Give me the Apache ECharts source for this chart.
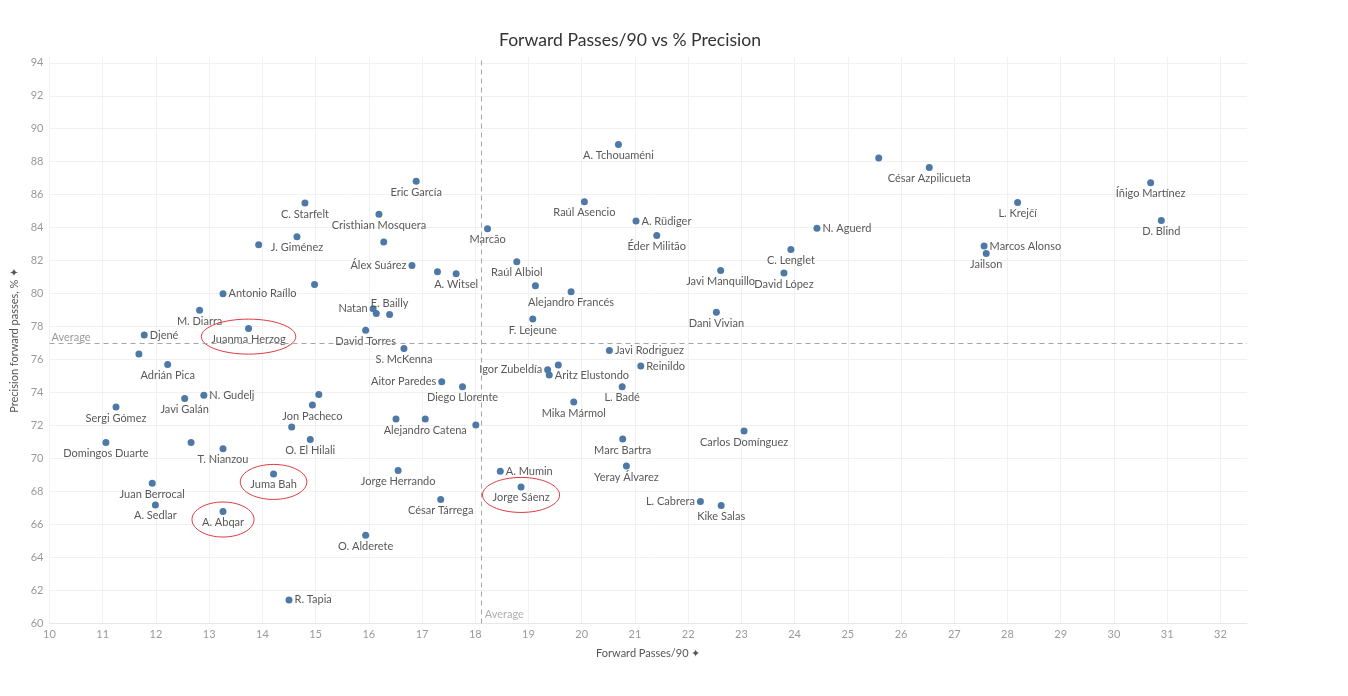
<!DOCTYPE html>
<html>
<head>
<meta charset="utf-8">
<script src="https://cdn.jsdelivr.net/npm/echarts@6/dist/echarts.min.js"></script>
<style>
  html, body { margin: 0; padding: 0; background: #ffffff; }
  #chart { width: 1348px; height: 696px; }
</style>
</head>
<body>
<div id="chart"></div>
<script>
// ---- data ----
const names = [
  'Antonio Raíllo', '', 'Natan', '', 'E. Bailly', 'M. Diarra', 'Juanma Herzog', 'Djené', '', 'Adrián Pica',
  'N. Gudelj', 'Javi Galán', 'Sergi Gómez', '', 'Jon Pacheco', '', 'O. El Hilali', 'Domingos Duarte', '', 'T. Nianzou',
  'David Torres', 'S. McKenna', 'Aitor Paredes', '', 'Alejandro Catena', 'Jorge Herrando', 'Juma Bah', 'Juan Berrocal', 'A. Sedlar', 'A. Abqar',
  'O. Alderete', 'R. Tapia', 'César Tárrega', 'Eric García', 'C. Starfelt', 'Cristhian Mosquera', 'J. Giménez', '', '', 'Marcão',
  'Álex Suárez', '', 'A. Witsel', 'Raúl Albiol', '', 'Alejandro Francés', 'F. Lejeune', 'A. Tchouaméni', 'Raúl Asencio', 'A. Rüdiger',
  'Éder Militão', 'N. Aguerd', 'C. Lenglet', 'Javi Manquillo', 'David López', 'Dani Vivian', 'Javi Rodriguez', 'Igor Zubeldía', 'Aritz Elustondo', '',
  'Reinildo', 'L. Badé', 'Mika Mármol', 'Diego Llorente', '', 'Marc Bartra', 'Yeray Álvarez', 'A. Mumin', 'Jorge Sáenz', 'Carlos Domínguez',
  'L. Cabrera', 'Kike Salas', '', 'César Azpilicueta', 'Íñigo Martínez', 'L. Krejčí', 'D. Blind', 'Marcos Alonso', 'Jailson'
];
const forwardPasses90 = [
  13.26, 14.98, 16.08, 16.14, 16.39, 12.82, 13.74, 11.78, 11.68, 12.22,
  12.90, 12.54, 11.25, 15.06, 14.94, 14.55, 14.90, 11.06, 12.66, 13.26,
  15.94, 16.66, 17.37, 16.51, 17.06, 16.55, 14.21, 11.93, 11.99, 13.26,
  15.94, 14.50, 17.35, 16.89, 14.80, 16.19, 14.65, 13.93, 16.28, 18.23,
  16.81, 17.29, 17.64, 18.78, 19.13, 19.80, 19.08, 20.69, 20.05, 21.02,
  21.41, 24.42, 23.93, 22.61, 23.80, 22.53, 20.52, 19.36, 19.39, 19.56,
  21.11, 20.76, 19.85, 17.76, 18.01, 20.77, 20.84, 18.47, 18.86, 23.05,
  22.23, 22.62, 25.58, 26.53, 30.69, 28.19, 30.89, 27.56, 27.60
];
const precisionPct = [
  80.00, 80.56, 79.09, 78.80, 78.73, 79.00, 77.88, 77.49, 76.34, 75.70,
  73.84, 73.64, 73.13, 73.88, 73.25, 71.92, 71.15, 70.97, 70.97, 70.60,
  77.78, 76.68, 74.66, 72.40, 72.40, 69.27, 69.07, 68.50, 67.19, 66.79,
  65.35, 61.43, 67.52, 86.81, 85.49, 84.81, 83.45, 82.97, 83.13, 83.94,
  81.70, 81.33, 81.21, 81.94, 80.48, 80.12, 78.46, 89.05, 85.58, 84.40,
  83.52, 83.96, 82.68, 81.41, 81.25, 78.88, 76.56, 75.39, 75.07, 75.67,
  75.61, 74.36, 73.43, 74.36, 72.04, 71.19, 69.55, 69.23, 68.28, 71.67,
  67.39, 67.15, 88.22, 87.65, 86.73, 85.53, 84.44, 82.89, 82.44
];
const avgForwardPasses90 = 18.12;
const avgPrecisionPct = 76.97;
const xTicks = { min: 10, max: 32.5, step: 1 };
const yTicks = { min: 60, max: 94.35, step: 2 };
const highlighted = ['Juanma Herzog', 'Juma Bah', 'A. Abqar', 'Jorge Sáenz'];

// label placement (layout, not data)
const labelRight = ['Antonio Raíllo', 'Djené', 'N. Gudelj', 'R. Tapia', 'A. Rüdiger', 'N. Aguerd',
  'Javi Rodriguez', 'Aritz Elustondo', 'Reinildo', 'A. Mumin', 'Marcos Alonso'];
const labelLeft = ['Natan', 'Aitor Paredes', 'Álex Suárez', 'Igor Zubeldía', 'L. Cabrera'];
const labelTop = ['E. Bailly'];

const FONT = 'Lato, "Open Sans", sans-serif';
const LABEL_COLOR = '#595959';

function sideOf(n) {
  if (labelRight.includes(n)) return 'right';
  if (labelLeft.includes(n)) return 'left';
  if (labelTop.includes(n)) return 'top';
  return 'bottom';
}

const points = names.map((n, i) => ({
  value: [forwardPasses90[i], precisionPct[i]],
  name: n,
  label: n ? { show: true, position: sideOf(n) } : { show: false }
}));

const measureCtx = document.createElement('canvas').getContext('2d');
measureCtx.font = '11px ' + FONT;

const ellipseData = highlighted.map(n => {
  const i = names.indexOf(n);
  return { value: [forwardPasses90[i], precisionPct[i]], name: n };
});

const chart = echarts.init(document.getElementById('chart'), null, { renderer: 'canvas' });

chart.setOption({
  backgroundColor: '#ffffff',
  animation: false,
  textStyle: { fontFamily: FONT },
  title: {
    text: 'Forward Passes/90 vs % Precision',
    left: 625,
    textAlign: 'center',
    top: 26,
    textStyle: { fontFamily: FONT, fontSize: 17.6, fontWeight: 'normal', color: '#333333' }
  },
  grid: { left: 49.5, right: 101, top: 57, bottom: 72.5, containLabel: false },
  xAxis: {
    type: 'value',
    min: xTicks.min, max: xTicks.max, interval: xTicks.step,
    name: 'Forward Passes/90 ✦',
    nameLocation: 'middle',
    nameGap: 24,
    nameTextStyle: { fontFamily: FONT, fontSize: 11, color: '#555555' },
    axisLine: { show: true, lineStyle: { color: '#e8e8e8' } },
    axisTick: { show: false },
    axisLabel: { color: '#9a9a9a', fontSize: 11, fontFamily: FONT, margin: 5, showMaxLabel: false },
    splitLine: { show: true, showMaxLine: false, lineStyle: { color: '#f1f1f1', width: 1 } }
  },
  yAxis: {
    type: 'value',
    min: yTicks.min, max: yTicks.max, interval: yTicks.step,
    name: 'Precision forward passes, % ✦',
    nameLocation: 'middle',
    nameGap: 28,
    nameTextStyle: { fontFamily: FONT, fontSize: 11, color: '#555555' },
    axisLine: { show: true, lineStyle: { color: '#f1f1f1' } },
    axisTick: { show: false },
    axisLabel: { color: '#9a9a9a', fontSize: 11, fontFamily: FONT, margin: 6, showMaxLabel: false },
    splitLine: { show: true, showMaxLine: false, lineStyle: { color: '#f1f1f1', width: 1 } }
  },
  series: [
    {
      type: 'scatter',
      name: 'players',
      symbol: 'circle',
      symbolSize: 7,
      itemStyle: { color: '#4e79a7', opacity: 1 },
      label: {
        show: true,
        formatter: p => p.name,
        fontFamily: FONT,
        fontSize: 11,
        color: LABEL_COLOR,
        distance: 2
      },
      emphasis: { disabled: true },
      data: points,
      z: 3,
      markLine: {
        silent: true,
        symbol: 'none',
        lineStyle: { color: '#a6a6a6', type: [5, 4], width: 1 },
        label: { show: false },
        data: [
          {
            yAxis: avgPrecisionPct,
            label: {
              show: true, formatter: 'Average', position: 'insideStartTop',
              distance: [2, 1], color: '#9a9a9a', fontSize: 11, fontFamily: FONT
            }
          },
          { xAxis: avgForwardPasses90, label: { show: false } }
        ]
      }
    },
    {
      type: 'scatter',
      name: 'avgLabelX',
      symbolSize: 0,
      silent: true,
      data: [[avgForwardPasses90, yTicks.min]],
      label: {
        show: true, formatter: 'Average', position: 'right', distance: 3,
        offset: [0, -9], color: '#9a9a9a', fontSize: 11, fontFamily: FONT
      },
      z: 2
    },
    {
      type: 'custom',
      name: 'highlight',
      silent: true,
      data: ellipseData,
      z: 4,
      renderItem: (params, api) => {
        const p = api.coord([api.value(0), api.value(1)]);
        const n = highlighted[params.dataIndex];
        const w = measureCtx.measureText(n).width;
        return {
          type: 'ellipse',
          shape: { cx: p[0], cy: p[1] + 8, rx: w / 2 + 10, ry: 17.5 },
          style: { fill: 'none', stroke: '#e0393e', lineWidth: 1 }
        };
      }
    }
  ]
});
</script>
</body>
</html>
